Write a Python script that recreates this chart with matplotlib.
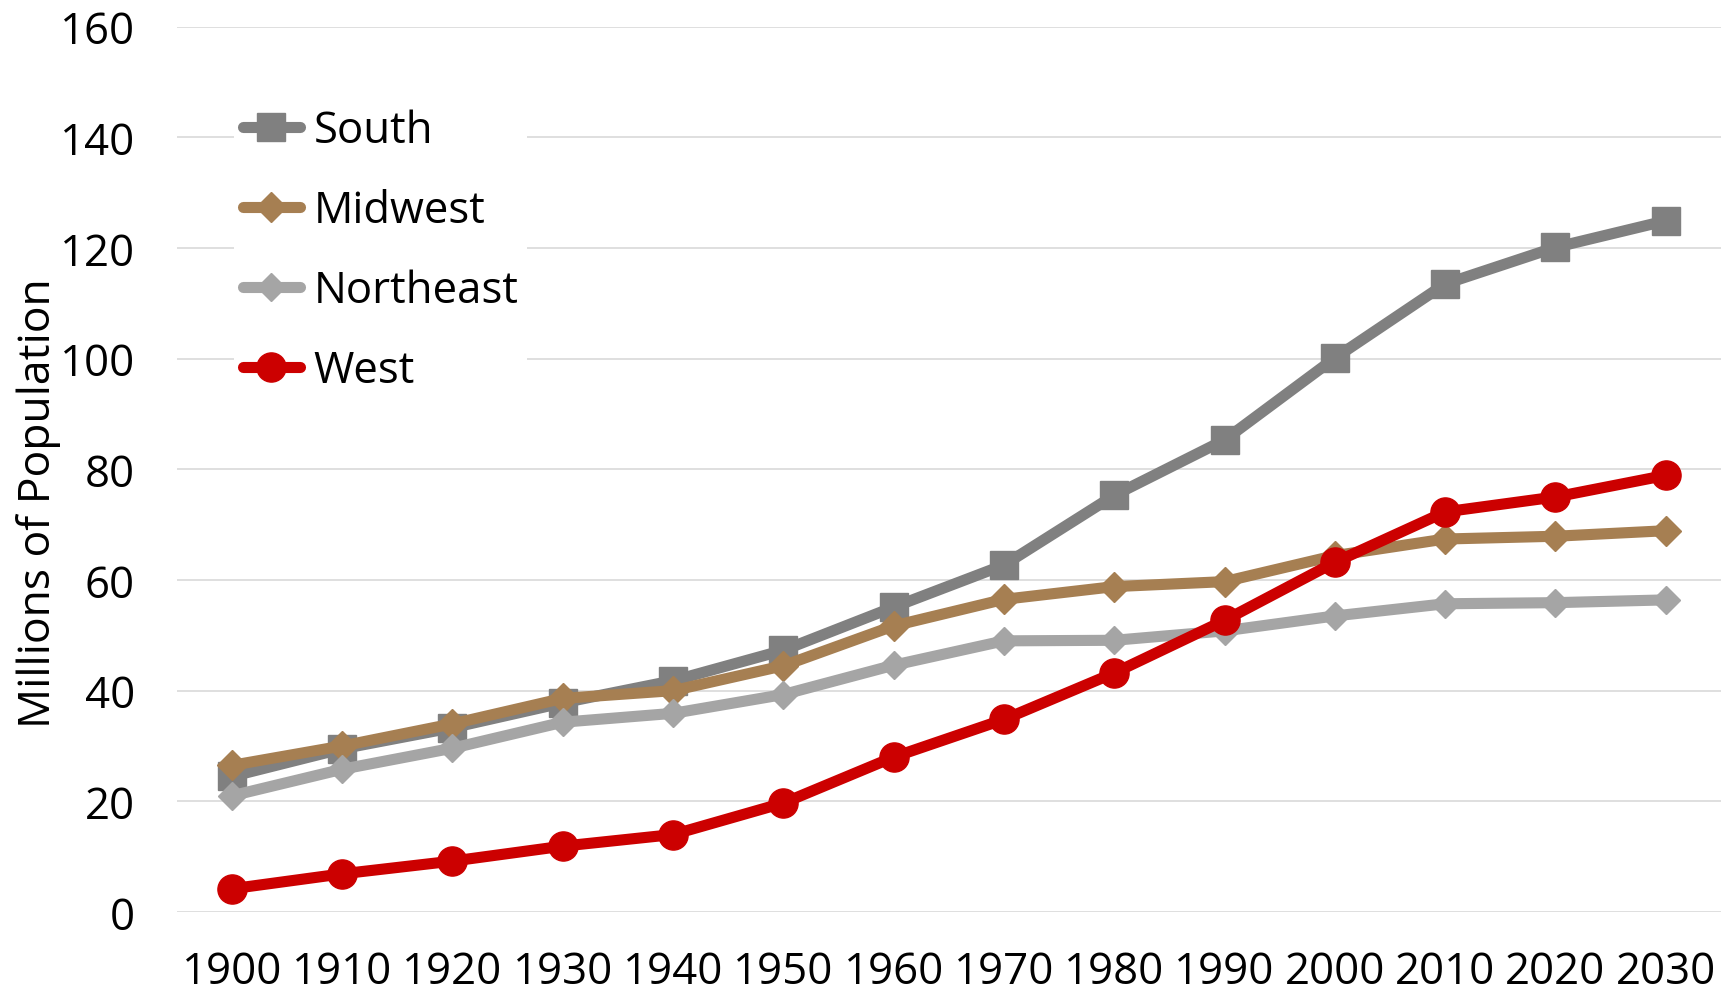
import matplotlib
matplotlib.use("Agg")
import matplotlib.pyplot as plt

years = ["1900", "1910", "1920", "1930", "1940", "1950", "1960", "1970",
         "1980", "1990", "2000", "2010", "2020", "2030"]
south = [24.5, 29.5, 33.3, 37.8, 41.8, 47.3, 55.1, 62.7, 75.3, 85.3, 100.1, 113.5, 120.1, 124.9]
midwest = [26.5, 30.0, 34.0, 38.6, 40.0, 44.5, 51.7, 56.5, 58.8, 59.7, 64.4, 67.4, 67.9, 68.9]
northeast = [21.0, 25.8, 29.6, 34.3, 35.9, 39.3, 44.6, 49.0, 49.1, 50.8, 53.5, 55.7, 55.9, 56.4]
west = [4.2, 6.9, 9.2, 11.9, 14.0, 19.7, 28.0, 34.8, 43.2, 52.7, 63.2, 72.3, 75.0, 78.9]
yticks = [0, 20, 40, 60, 80, 100, 120, 140, 160]

FONT = "Open Sans"
FS = 31.5

plt.rcParams["font.family"] = [FONT, "DejaVu Sans"]

fig = plt.figure(figsize=(17.33, 9.95), dpi=100)
ax = fig.add_axes([0.102, 0.0824, 0.891, 0.8899])

x = list(range(len(years)))
lw = 8.0
common = dict(linewidth=lw, solid_capstyle="round", solid_joinstyle="round", clip_on=False)
ax.plot(x, south, color="#808080", marker="s", markersize=20, label="South", **common)
ax.plot(x, midwest, color="#A67F52", marker="D", markersize=15.5, label="Midwest", **common)
ax.plot(x, northeast, color="#A5A5A5", marker="D", markersize=14, label="Northeast", **common)
ax.plot(x, west, color="#CC0000", marker="o", markersize=21, label="West", **common)

ax.set_xlim(-0.5, len(years) - 0.5)
ax.set_ylim(0, 160)
ax.set_xticks(x)
ax.set_xticklabels(years)
ax.set_yticks(yticks)
ax.set_yticklabels([str(v) for v in yticks])
ax.tick_params(axis="both", length=0, labelsize=FS, colors="black")
ax.tick_params(axis="x", pad=27)
ax.tick_params(axis="y", pad=30)
for s in ax.spines.values():
    s.set_visible(False)
ax.grid(axis="y", color="#D9D9D9", linewidth=1.2)
ax.set_axisbelow(True)
ax.set_ylabel("Millions of Population", fontsize=32)
ax.yaxis.label.set_va("center")
ax.yaxis.set_label_coords((38.5 - 176.8) / 1544, (913 - 503) / (913 - 27.6))

leg = ax.legend(loc="upper left", bbox_to_anchor=(234 / 1733, 1 - 101 / 995),
                bbox_transform=fig.transFigure, fontsize=FS, frameon=True,
                framealpha=1, facecolor="white", edgecolor="none",
                handlelength=1.3, handletextpad=0.32, labelspacing=0.81,
                borderpad=0.2, borderaxespad=0, fancybox=False)

fig.savefig("out.png", dpi=100)
